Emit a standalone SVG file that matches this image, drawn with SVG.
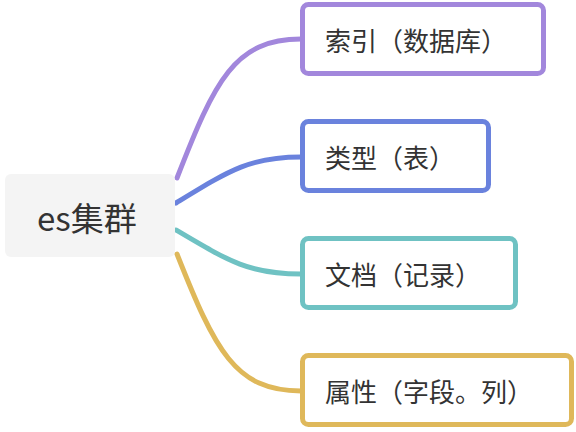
<svg xmlns="http://www.w3.org/2000/svg" width="576" height="432" viewBox="0 0 576 432">
<style>
.box{fill:#ffffff;stroke-width:5}
.lbl{font-family:"Noto Sans CJK SC","Noto Sans",sans-serif;font-size:26px;fill:#333333}
.root{font-family:"Noto Sans CJK SC","Noto Sans",sans-serif;font-size:33px;fill:#333333}
.edge{fill:none;stroke-width:5;stroke-linecap:round}
</style>
<rect width="576" height="432" fill="#ffffff"/>
<g id="connectors">
<path class="edge" stroke="#a287dc" d="M177,178 C215,80 235,39 301,39"/>
<path class="edge" stroke="#6a82dd" d="M176,203 C230,170 250,157 301,157"/>
<path class="edge" stroke="#6fc2c3" d="M176,230 C230,262 250,274 301,274"/>
<path class="edge" stroke="#dfb85a" d="M177,254 C215,350 235,391 301,391"/>
</g>
<g id="root">
<rect x="5" y="174" width="170" height="83" rx="6" fill="#f4f4f4"/>
<text class="root" x="37" y="231">es集群</text>
</g>
<g id="n1">
<rect class="box" x="302.5" y="4.5" width="241" height="69" rx="6" stroke="#a287dc"/>
<text class="lbl" x="325" y="51">索引（数据库）</text>
</g>
<g id="n2">
<rect class="box" x="302.5" y="121.5" width="186" height="69" rx="6" stroke="#6a82dd"/>
<text class="lbl" x="325" y="168">类型（表）</text>
</g>
<g id="n3">
<rect class="box" x="302.5" y="238.5" width="213" height="69" rx="6" stroke="#6fc2c3"/>
<text class="lbl" x="325" y="285">文档（记录）</text>
</g>
<g id="n4">
<rect class="box" x="302.5" y="355.5" width="269" height="69" rx="6" stroke="#dfb85a"/>
<text class="lbl" x="325" y="402">属性（字段。列）</text>
</g>
</svg>
